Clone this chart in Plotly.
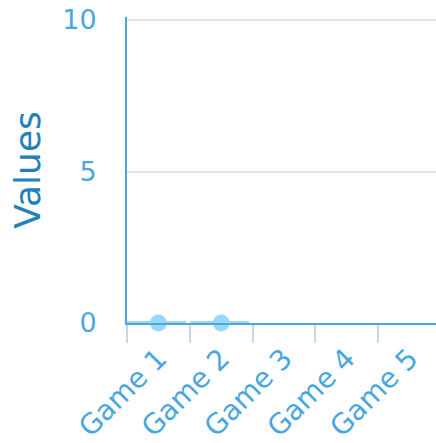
import plotly.graph_objects as go

categories = ["Game 1", "Game 2", "Game 3", "Game 4", "Game 5"]
point_games = ["Game 1", "Game 2"]
point_values = [0, 0]
strip_values = [0.06, 0.06]
y_ticks = [0, 5, 10]

fig = go.Figure()
fig.add_trace(go.Bar(
    x=point_games, y=strip_values, width=0.94, offset=-0.5,
    marker=dict(color="#9dd8f6", line=dict(width=0)), showlegend=False,
))
fig.add_trace(go.Scatter(
    x=point_games, y=point_values, mode="markers",
    marker=dict(size=17, color="#99d8fb", line=dict(width=0)),
    showlegend=False, cliponaxis=False,
))

fig.update_layout(
    width=436, height=443,
    margin=dict(l=127, r=0, t=17, b=118),
    paper_bgcolor="white", plot_bgcolor="white",
    font=dict(family="DejaVu Sans", color="#4aa6dc"),
    bargap=0,
    xaxis=dict(
        type="category", categoryorder="array", categoryarray=categories,
        tickvals=categories, range=[-0.5, 4.42],
        tickson="boundaries", ticks="outside", ticklen=18, tickwidth=2,
        tickcolor="#c8d4e8", tickangle=-45,
        tickfont=dict(size=28, color="#4aa6dc"),
        ticklabelstandoff=6,
        showline=True, linecolor="#4aa8dc", linewidth=2,
        showgrid=False, zeroline=False,
    ),
    yaxis=dict(
        range=[0, 10.1], tickvals=y_ticks,
        tickfont=dict(size=27, color="#4aa6dc"),
        ticklabelstandoff=23, ticklabeloverflow="allow",
        showline=True, linecolor="#4aa8dc", linewidth=2,
        showgrid=True, gridcolor="#e3e3e3", gridwidth=2,
        zeroline=False,
        title=dict(text="Values", font=dict(size=36, color="#2380b8"), standoff=11),
    ),
)

fig.write_html(
    "out.html",
    config={"displayModeBar": False},
    post_script="document.body.style.margin='0';document.body.style.overflow='hidden';",
)
